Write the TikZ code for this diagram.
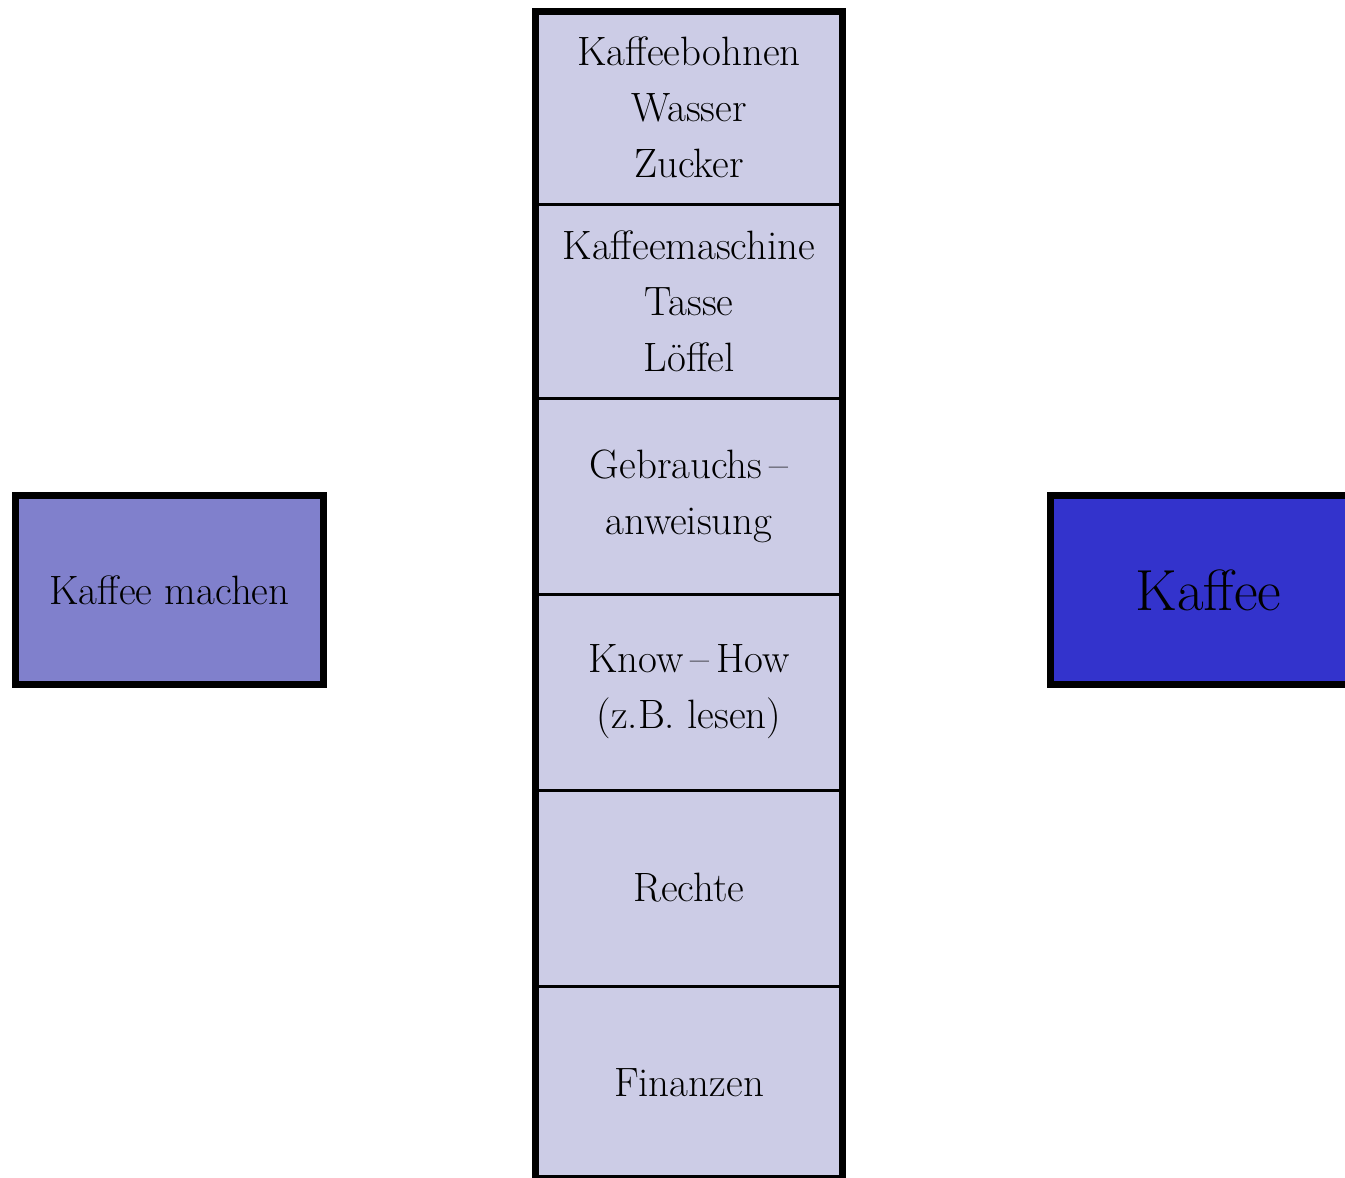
\documentclass[tikz,border=0pt]{standalone}
\definecolor{cellfill}{RGB}{204,204,230}
\definecolor{midblue}{RGB}{128,128,204}
\definecolor{deepblue}{RGB}{51,51,204}
\tikzset{
  cell/.style={draw, line width=1.5pt, fill=cellfill, inner sep=0pt, outer sep=0pt,
    minimum width=153.5pt, align=center, font=\fontsize{20.5}{28}\selectfont},
  sidebox/.style={draw, line width=3.5pt, inner sep=0pt, outer sep=0pt,
    minimum height=94.5pt, align=center},
}
\begin{document}
\begin{tikzpicture}[x=0.5pt,y=-0.5pt]
\useasboundingbox (0,0) rectangle (1345,1178);
\node[cell, minimum height=96.25pt] (c1) at (689,107.75) {Kaffeebohnen\\Wasser\\Zucker};
\node[cell, minimum height=97pt] (c2) at (689,301) {Kaffeemaschine\\Tasse\\L\"offel};
\node[cell, minimum height=98pt] (c3) at (689,496) {Gebrauchs\,--\\anweisung};
\node[cell, minimum height=98pt] (c4) at (689,692) {Know\,--\,How\\(z.B. lesen)};
\node[cell, minimum height=98pt] (c5) at (689,888) {Rechte};
\node[cell, minimum height=96.25pt] (c6) at (689,1082.25) {Finanzen};
\draw[line width=3.5pt] (c1.north west) rectangle (c6.south east);
\node[sidebox, minimum width=154pt, fill=midblue, font=\fontsize{20.5}{28}\selectfont] (make) at (169.5,590) {Kaffee machen};
\node[sidebox, minimum width=158pt, fill=deepblue, font=\fontsize{29}{32}\selectfont] (out) at (1208.5,590) {Kaffee};
\end{tikzpicture}
\end{document}
